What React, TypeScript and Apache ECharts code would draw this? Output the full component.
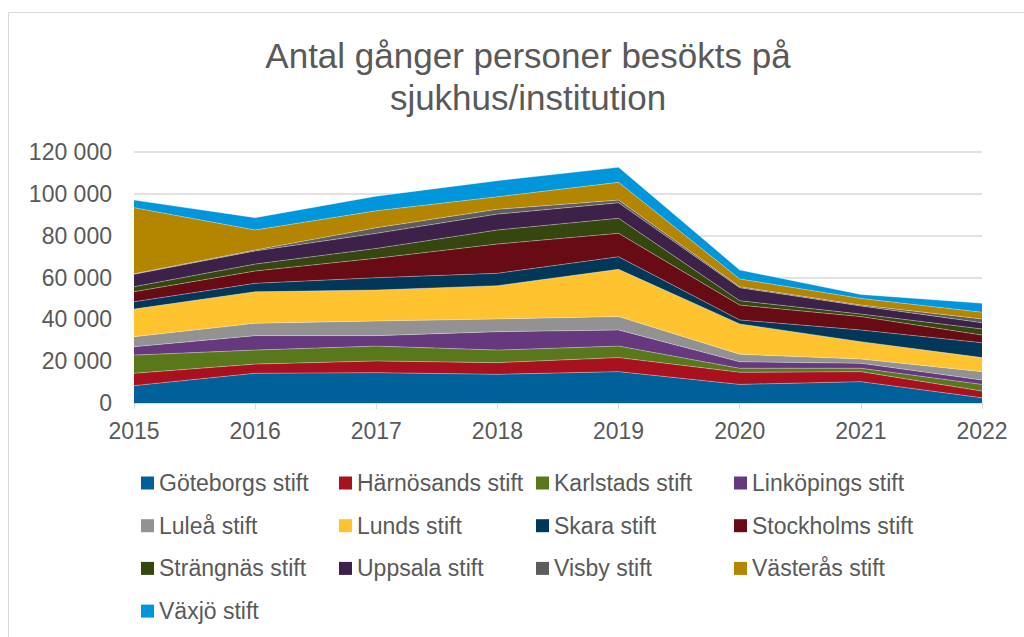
import React, { useEffect, useRef } from "react";
import * as echarts from "echarts";

const years = ["2015", "2016", "2017", "2018", "2019", "2020", "2021", "2022"];

const goteborg = [8300, 14200, 14500, 13700, 15000, 8900, 10200, 2500];
const harnosand = [5900, 4400, 5600, 5600, 6700, 5800, 4800, 3200];
const karlstad = [8700, 6700, 7100, 6000, 5500, 1900, 1600, 3200];
const linkoping = [4000, 6900, 5000, 8800, 7700, 3100, 2400, 2100];
const lulea = [4800, 5900, 7000, 6100, 6400, 3600, 2000, 4000];
const lund = [13200, 15100, 14800, 15900, 22600, 14500, 8300, 6700];
const skara = [3500, 4000, 5900, 5900, 6000, 1900, 5600, 7100];
const stockholm = [4800, 5900, 9300, 14000, 11200, 7100, 6400, 3700];
const strangnas = [2400, 3300, 4700, 6700, 7200, 2100, 1200, 2900];
const uppsala = [5900, 6300, 7200, 7600, 7400, 6200, 3900, 3000];
const visby = [300, 400, 2700, 2300, 1300, 500, 400, 1800];
const vasteras = [31600, 9600, 8100, 6000, 8500, 3700, 3200, 3200];
const vaxjo = [3600, 5900, 7000, 7700, 7200, 4300, 1900, 4300];

const seriesNames = [
  "Göteborgs stift",
  "Härnösands stift",
  "Karlstads stift",
  "Linköpings stift",
  "Luleå stift",
  "Lunds stift",
  "Skara stift",
  "Stockholms stift",
  "Strängnäs stift",
  "Uppsala stift",
  "Visby stift",
  "Västerås stift",
  "Växjö stift",
];
const seriesData = [
  goteborg, harnosand, karlstad, linkoping, lulea, lund, skara,
  stockholm, strangnas, uppsala, visby, vasteras, vaxjo,
];
const seriesColors = [
  "#00609a", "#aa111f", "#58781b", "#66397e", "#929292", "#fec32e", "#01385a",
  "#680b14", "#36460f", "#3d2149", "#5d5d5d", "#b48600", "#0096dc",
];

const yTicks = { min: 0, max: 120000, interval: 20000 };

const FONT = "'Liberation Sans', Arial, sans-serif";
const TEXT = "#595959";

export default function App() {
  const ref = useRef<HTMLDivElement>(null);

  useEffect(() => {
    if (!ref.current) return;
    const chart = echarts.init(ref.current, null, { renderer: "svg" });

    const legendCols = [0, 1, 2, 3].map((c) => ({
      show: true,
      orient: "vertical" as const,
      left: [136, 334, 531, 729][c],
      top: 466,
      itemWidth: 13,
      itemHeight: 13,
      itemGap: 18.7,
      icon: "rect",
      selectedMode: false,
      data: seriesNames.filter((_, i) => i % 4 === c),
      textStyle: { color: TEXT, fontSize: 23, fontFamily: FONT, lineHeight: 24 },
    }));

    chart.setOption({
      animation: false,
      backgroundColor: "#ffffff",
      textStyle: { fontFamily: FONT },
      title: {
        text: "Antal gånger personer besökts på\nsjukhus/institution",
        left: 523,
        top: 29,
        textAlign: "center",
        textStyle: {
          color: TEXT,
          fontSize: 35,
          fontWeight: "normal",
          fontFamily: FONT,
          lineHeight: 42,
        },
      },
      graphic: [
        {
          type: "rect",
          shape: { x: 8.5, y: 12.5, width: 1040, height: 700 },
          style: { fill: "none", stroke: "#d9d9d9", lineWidth: 1 },
          silent: true,
        },
      ],
      legend: legendCols,
      grid: { left: 134, right: 42, top: 152, bottom: 234, containLabel: false },
      xAxis: {
        type: "category",
        data: years,
        boundaryGap: false,
        axisLine: { show: true, lineStyle: { color: "#d9d9d9", width: 1 } },
        axisTick: { show: true, length: 6, lineStyle: { color: "#d9d9d9" } },
        axisLabel: { color: TEXT, fontSize: 23, fontFamily: FONT, margin: 16 },
        splitLine: { show: false },
      },
      yAxis: {
        type: "value",
        min: yTicks.min,
        max: yTicks.max,
        interval: yTicks.interval,
        axisLine: { show: false },
        axisTick: { show: false },
        axisLabel: {
          color: TEXT,
          fontSize: 23,
          fontFamily: FONT,
          margin: 22,
          formatter: (v: number) =>
            String(v).replace(/\B(?=(\d{3})+(?!\d))/g, " "),
        },
        splitLine: { show: true, lineStyle: { color: "#d9d9d9", width: 1.5 } },
      },
      series: seriesNames.map((name, i) => ({
        name,
        type: "line",
        stack: "total",
        data: seriesData[i],
        showSymbol: false,
        symbol: "none",
        color: seriesColors[i],
        lineStyle: { width: 0.6, color: "rgba(255,255,255,0.55)" },
        areaStyle: { color: seriesColors[i], opacity: 1 },
        emphasis: { disabled: true },
      })),
    });

    return () => chart.dispose();
  }, []);

  return (
    <div
      ref={ref}
      style={{ position: "absolute", left: 0, top: 0, width: 1024, height: 637 }}
    />
  );
}
